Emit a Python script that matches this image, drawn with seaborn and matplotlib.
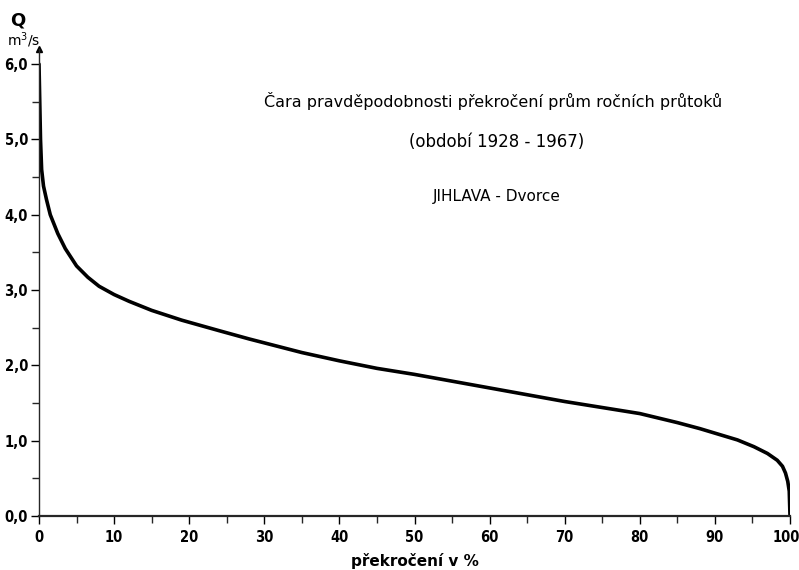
import numpy as np
import pandas as pd
import seaborn as sns
import matplotlib
matplotlib.use("Agg")
import matplotlib.pyplot as plt
from matplotlib.ticker import FuncFormatter, MultipleLocator
from matplotlib.transforms import ScaledTranslation

# prekroceni (%) vs. prumerny rocni prutok Q (m3/s)
pct = [0, 0.1, 0.2, 0.35, 0.6, 1.0, 1.5, 2.5, 3.5, 5, 6.5, 8, 10, 12, 15, 19,
       24, 28, 35, 40, 45, 50, 55, 60, 65, 70, 75, 80, 85, 88, 90, 93, 95.2,
       97, 98.3, 99.0, 99.4, 99.7, 99.9, 100]
Q = [6.0, 5.5, 5.0, 4.6, 4.38, 4.2, 4.0, 3.75, 3.55, 3.32, 3.17, 3.05, 2.94,
     2.85, 2.73, 2.6, 2.46, 2.35, 2.17, 2.06, 1.96, 1.88, 1.79, 1.70, 1.61,
     1.52, 1.44, 1.36, 1.24, 1.16, 1.10, 1.01, 0.92, 0.83, 0.74, 0.66, 0.57,
     0.46, 0.33, 0.0]

title_lines = ["Čara pravděpodobnosti překročení prům ročních průtoků",
               "(období 1928 - 1967)",
               "JIHLAVA - Dvorce"]

df = pd.DataFrame({"pct": pct, "Q": Q})

sns.set_style("ticks")
plt.rcParams['font.family'] = ['DejaVu Sans']
plt.rcParams['text.color'] = 'black'

fig = plt.figure(figsize=(7.99, 5.70), dpi=100)
ax = fig.add_axes([39/799, 1-516/570, (790-39)/799, (516-49)/570])

sns.lineplot(data=df, x="pct", y="Q", color="black", lw=2.6, ax=ax,
             estimator=None, sort=False)

ax.set_xlim(0, 100)
ax.set_ylim(0, 6.2)
ax.set_xticks(np.arange(0, 101, 10))
ax.set_xticks(np.arange(5, 100, 10), minor=True)
ax.set_yticks(np.arange(0, 6.01, 1.0))
ax.set_yticks(np.arange(0.5, 6.01, 1.0), minor=True)
ax.yaxis.set_major_formatter(FuncFormatter(lambda v, p: f"{v:.1f}".replace(".", ",")))
ax.xaxis.set_major_formatter(FuncFormatter(lambda v, p: f"{v:.0f}"))
ax.tick_params(axis="both", which="major", length=6, width=1, labelsize=10.5,
               direction="out", colors="black")
ax.tick_params(axis="both", which="minor", length=5, width=1, direction="out")
ax.tick_params(axis="x", pad=4)
ax.tick_params(axis="y", pad=2)
for lab in ax.get_xticklabels() + ax.get_yticklabels():
    lab.set_fontweight("bold")
    lab.set_fontstretch("condensed")
# posledni popisek trochu doleva, at se vejde
last = ax.xaxis.get_major_ticks()[-1].label1
last.set_transform(last.get_transform() + ScaledTranslation(-3/72, 0, fig.dpi_scale_trans))

sns.despine(ax=ax)
ax.spines["left"].set_linewidth(1)
ax.spines["bottom"].set_linewidth(1.6)
# sipka na ose y
ax.plot(0, 6.2, marker="^", color="black", markersize=5, clip_on=False)

ax.set_xlabel("překročení v %", fontsize=11, fontweight="bold", labelpad=6,
              color="black")
ax.set_ylabel("")
fig.text(18/799, 1-20/570, "Q", fontsize=13, fontweight="bold", ha="center",
         va="center")
fig.text(24/799, 1-40/570, "m$^3$/s", fontsize=10, ha="center", va="center")

ax.text(0.605, 0.888, title_lines[0], transform=ax.transAxes, fontsize=11.5,
        ha="center", va="center", color="black")
ax.text(0.61, 0.80, title_lines[1], transform=ax.transAxes, fontsize=12,
        ha="center", va="center", color="black")
ax.text(0.61, 0.685, title_lines[2], transform=ax.transAxes, fontsize=11,
        ha="center", va="center", color="black")

fig.savefig("out.png", dpi=100)
